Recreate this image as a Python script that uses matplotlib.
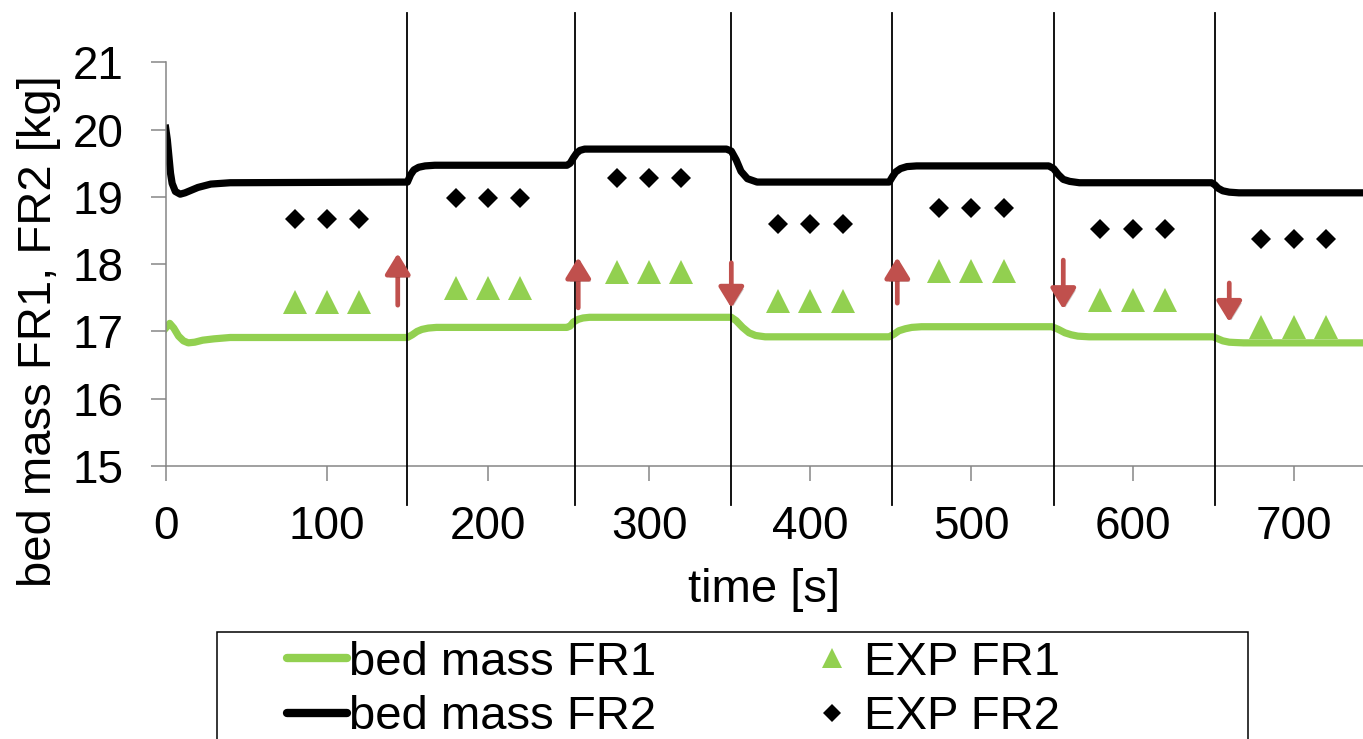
import matplotlib
matplotlib.use("Agg")
import matplotlib.pyplot as plt
import matplotlib.patheffects as pe
import numpy as np
from matplotlib.lines import Line2D
from matplotlib.patches import FancyArrowPatch, Rectangle

# simulated bed mass, FR1 (green) and FR2 (black)
t_fr1 = [0, 2.5, 5, 8, 11, 14, 18, 23, 30, 40,
         150, 153, 156, 159, 163, 168,
         249, 251, 253, 256, 259, 263,
         351, 354, 358, 362, 366, 372,
         449, 452, 455, 459, 463, 469,
         550, 554, 558, 562, 566, 573,
         650, 653, 656, 660, 664, 669, 745]
m_fr1 = [17.05, 17.12, 17.05, 16.93, 16.86, 16.83, 16.84, 16.87, 16.89, 16.91,
         16.91, 16.95, 17.00, 17.03, 17.05, 17.06,
         17.06, 17.08, 17.14, 17.18, 17.20, 17.21,
         17.21, 17.16, 17.06, 16.98, 16.94, 16.92,
         16.92, 16.96, 17.01, 17.04, 17.06, 17.07,
         17.07, 17.03, 16.98, 16.95, 16.93, 16.92,
         16.92, 16.89, 16.86, 16.84, 16.835, 16.83, 16.83]

t_fr2 = [0, 1, 2, 3, 4, 6, 9, 12, 15, 20, 28, 40,
         150, 152, 154, 157, 161, 167,
         249, 251, 253, 255, 257, 260,
         348, 351, 354, 357, 361, 367,
         449, 451, 453, 456, 460, 466,
         548, 551, 554, 557, 561, 567,
         649, 651, 653, 656, 660, 666, 745]
m_fr2 = [20.02, 19.85, 19.60, 19.35, 19.20, 19.08, 19.04, 19.06, 19.09, 19.14, 19.19, 19.21,
         19.22, 19.33, 19.40, 19.44, 19.46, 19.47,
         19.47, 19.50, 19.58, 19.65, 19.69, 19.71,
         19.71, 19.68, 19.55, 19.38, 19.27, 19.22,
         19.22, 19.30, 19.37, 19.42, 19.45, 19.46,
         19.46, 19.42, 19.33, 19.26, 19.23, 19.21,
         19.21, 19.18, 19.13, 19.09, 19.07, 19.06, 19.06]

# experimental points
t_exp = [80, 100, 120, 180, 200, 220, 280, 300, 320, 380, 400, 420,
         480, 500, 520, 580, 600, 620, 680, 700, 720]
exp_fr1 = [17.44, 17.44, 17.44, 17.65, 17.65, 17.65, 17.89, 17.89, 17.89,
           17.45, 17.45, 17.45, 17.90, 17.90, 17.90, 17.46, 17.46, 17.46,
           17.06, 17.06, 17.06]
exp_fr2 = [18.67, 18.67, 18.67, 18.99, 18.99, 18.99, 19.28, 19.28, 19.28,
           18.60, 18.60, 18.60, 18.84, 18.84, 18.84, 18.52, 18.52, 18.52,
           18.38, 18.38, 18.38]

# step change markers
step_t = [150, 254, 351, 451, 551, 651]
arrow_t = [144, 256, 351, 454, 557, 660]
arrow_from = [17.39, 17.35, 18.02, 17.42, 18.06, 17.72]
arrow_to = [18.16, 18.10, 17.35, 18.10, 17.33, 17.14]

GREEN = "#92D050"
RED = "#C0504D"
GRAY = "#868686"

plt.rcParams["font.family"] = ["Liberation Sans", "DejaVu Sans"]

fig = plt.figure(figsize=(13.63, 7.39), dpi=100)
W, H = 1363, 739
ax = fig.add_axes([165.7 / W, 1 - 466 / H, 1 - 165.7 / W, (466 - 62.3) / H])

ax.plot(t_fr1, m_fr1, color=GREEN, lw=5.2, solid_joinstyle="round", zorder=2)
ax.plot(t_fr2, m_fr2, color="black", lw=5.2, solid_joinstyle="round", zorder=2)
ax.plot(t_exp, exp_fr1, ls="none", marker="^", ms=16.8, color=GREEN,
        markeredgewidth=0, zorder=3)
ax.plot(t_exp, exp_fr2, ls="none", marker="D", ms=9.7, color="black",
        markeredgewidth=0, zorder=3)

for x in step_t:
    ax.plot([x, x], [14.42, 21.74], color="black", lw=1.3, clip_on=False, zorder=4)

for x, y0, y1 in zip(arrow_t, arrow_from, arrow_to):
    arr = FancyArrowPatch((x, y0), (x, y1), arrowstyle="-|>,head_width=0.38,head_length=0.62",
                          mutation_scale=20, color=RED, lw=3.4, shrinkA=0, shrinkB=0,
                          joinstyle="round", zorder=5)
    arr.set_path_effects([pe.SimplePatchShadow(offset=(1.5, -2), alpha=0.25), pe.Normal()])
    ax.add_patch(arr)

ax.set_xlim(0, 743)
ax.set_ylim(15, 21)
ax.set_xticks(range(0, 701, 100))
ax.set_yticks(range(15, 22))
for side in ["top", "right"]:
    ax.spines[side].set_visible(False)
for side in ["left", "bottom"]:
    ax.spines[side].set_color(GRAY)
    ax.spines[side].set_linewidth(1.1)
ax.tick_params(axis="both", direction="out", length=10.5, width=1.1, color=GRAY,
               labelsize=33)
ax.tick_params(axis="y", pad=20)
ax.tick_params(axis="x", pad=17.5)

ax.set_xlabel("time [s]", fontsize=34, labelpad=14)
ax.set_ylabel("bed mass FR1, FR2 [kg]", fontsize=34)
ax.yaxis.set_label_coords((61 - 165.7) / (W - 165.7), (466 - 331.5) / (466 - 62.3))

# legend box and entries
fig.patches.append(Rectangle((216.7 / W, -0.1), (1248 - 216.7) / W, 0.1 + 1 - 631.7 / H,
                             transform=fig.transFigure, fill=False, ec="black", lw=1.1))
h_lines = [Line2D([], [], color=GREEN, lw=6, solid_capstyle="round"),
           Line2D([], [], color="black", lw=6, solid_capstyle="round")]
fig.legend(h_lines, ["bed mass FR1", "bed mass FR2"], loc="upper left",
           bbox_to_anchor=(287 / W, 1 - 641 / H), frameon=False, fontsize=34,
           handlelength=1.27, handletextpad=0.05, labelspacing=0.22,
           borderpad=0, borderaxespad=0)
h_marks = [Line2D([], [], ls="none", marker="^", ms=15, color=GREEN, markeredgewidth=0),
           Line2D([], [], ls="none", marker="D", ms=9, color="black", markeredgewidth=0)]
fig.legend(h_marks, ["EXP FR1", "EXP FR2"], loc="upper left",
           bbox_to_anchor=(818 / W, 1 - 641 / H), frameon=False, fontsize=34,
           handlelength=0.6, handletextpad=0.38, labelspacing=0.22,
           borderpad=0, borderaxespad=0, numpoints=1)

fig.savefig("out.png", dpi=100)
